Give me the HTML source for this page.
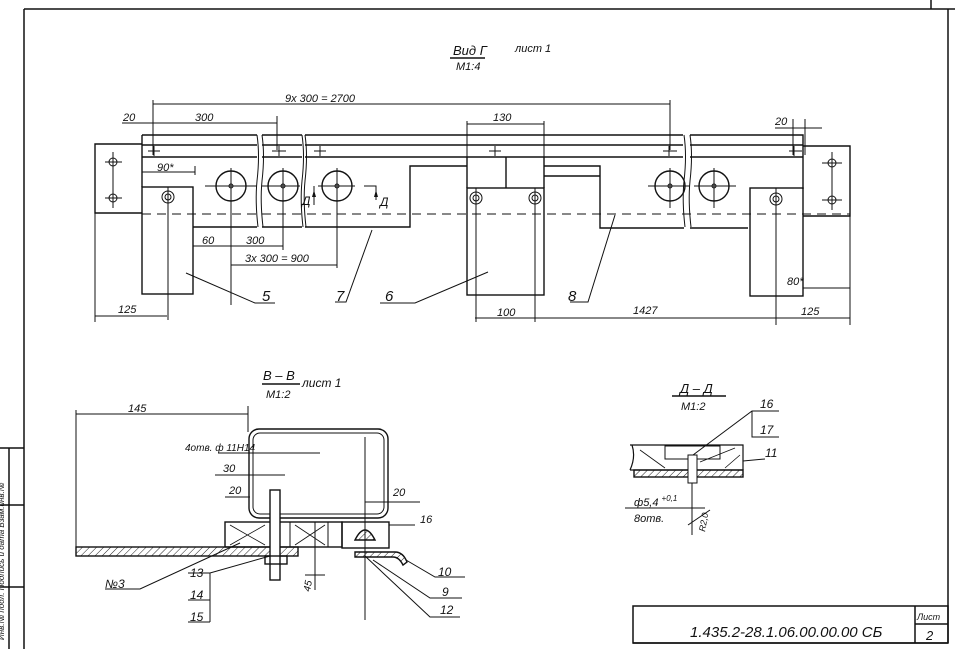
<!DOCTYPE html>
<html><head><meta charset="utf-8"><style>
html,body{margin:0;padding:0;background:#fff;}
svg{display:block;}
text{font-family:"Liberation Sans",sans-serif;font-style:italic;fill:#111;stroke:none;font-weight:normal;}
</style></head><body>
<svg width="955" height="649" viewBox="0 0 955 649" xmlns="http://www.w3.org/2000/svg">
<defs>
<pattern id="h" width="5" height="5" patternUnits="userSpaceOnUse" patternTransform="rotate(45)"><line x1="0" y1="0" x2="0" y2="5" stroke="#222" stroke-width="1"/></pattern>
</defs>
<g stroke="#111" fill="none" stroke-width="1.5">
<line x1="24" y1="9" x2="955" y2="9"/>
<line x1="24" y1="9" x2="24" y2="649"/>
<line x1="948" y1="9" x2="948" y2="643"/>
<line x1="931" y1="0" x2="931" y2="9"/>
<line x1="0" y1="448" x2="24" y2="448"/>
<line x1="9" y1="448" x2="9" y2="649"/>
<line x1="0" y1="505" x2="24" y2="505"/>
<line x1="0" y1="587" x2="24" y2="587"/>
<rect x="633" y="606" width="315" height="37"/>
<line x1="915" y1="606" x2="915" y2="643"/>
<line x1="915" y1="624" x2="948" y2="624"/>
<line x1="633" y1="643" x2="948" y2="643"/>
</g>
<g stroke="#111" fill="none" stroke-width="1.4">
<path d="M142 135 H257 M262 135 H302 M305 135 H683 M690 135 H803 V157"/>
<path d="M142 145 H257 M262 145 H302 M305 145 H683 M690 145 H803"/>
<path d="M142 157 H257 M262 157 H302 M305 157 H683 M690 157 H803"/>
<path d="M142 135 V187"/>
<path d="M257 135 q3 20 0 46 q-2 20 1 46" stroke-width="1"/>
<path d="M262 135 q3 20 0 46 q-2 20 1 46" stroke-width="1"/>
<path d="M302 135 q3 20 0 46 q-2 20 1 46" stroke-width="1"/>
<path d="M305 135 q3 20 0 46 q-2 20 1 46" stroke-width="1"/>
<path d="M684 135 q3 20 0 46 q-2 20 1 46" stroke-width="1"/>
<path d="M690 135 q3 20 0 46 q-2 20 1 46" stroke-width="1"/>
<path d="M142 144 H95 V213 H142"/>
<rect x="142" y="187" width="51" height="107"/>
<path d="M193 227 H257 M262 227 H302 M305 227 H410 V166 H467"/>
<rect x="467" y="188" width="77" height="107"/>
<path d="M467 157 V188 M544 157 V188 M506 157 V188"/>
<path d="M544 166 H600 V228 H684 M690 228 H748"/>
<path d="M544 176 H600"/>
<path d="M803 146 H850 V216 H803 M803 157 V189"/>
<rect x="750" y="188" width="53" height="108"/>
<path d="M142 214 H850" stroke-dasharray="9,6" stroke-width="1"/>
<circle cx="231" cy="186" r="15"/><circle cx="283" cy="186" r="15"/><circle cx="337" cy="186" r="15"/>
<circle cx="670" cy="186" r="15"/><circle cx="714" cy="186" r="15"/>
<g stroke-width="1">
<circle cx="231" cy="186" r="2"/><circle cx="283" cy="186" r="2"/><circle cx="337" cy="186" r="2"/><circle cx="670" cy="186" r="2"/><circle cx="714" cy="186" r="2"/>
<path d="M205 186 H257 M231 168 V305 M262 186 H300 M283 168 V250 M318 186 H355 M337 168 V268 M648 186 H690 M670 168 V208 M694 186 H736 M714 168 V208"/>
<circle cx="168" cy="197" r="6"/><circle cx="168" cy="197" r="3"/>
<circle cx="476" cy="198" r="6"/><circle cx="476" cy="198" r="3"/>
<circle cx="535" cy="198" r="6"/><circle cx="535" cy="198" r="3"/>
<circle cx="776" cy="199" r="6"/><circle cx="776" cy="199" r="3"/>
<circle cx="113" cy="162" r="4"/><circle cx="113" cy="198" r="4"/>
<circle cx="832" cy="163" r="4"/><circle cx="832" cy="200" r="4"/>
<path d="M105 162 H122 M105 198 H122 M113 152 V208 M822 163 H842 M822 200 H842 M832 152 V210"/>
<path d="M168 187 V320 M476 188 V322 M535 188 V322 M776 188 V325 M95 213 V322 M850 216 V325"/>
<path d="M148 151 H160 M154 146 V156 M272 151 H286 M279 146 V156 M314 151 H326 M320 146 V156 M489 151 H501 M495 146 V156 M663 151 H677 M669 146 V156 M789 151 H802 M794 146 V156"/>
<path d="M153 104 H670 M153 100 V155 M670 100 V150 M122 123 H277 M277 116 V150 M467 121 V160 M544 121 V160 M467 124 H544 M775 128 H822 M793 119 V155 M805 119 V155"/>
<path d="M142 172 H195 M195 166 V175 M193 246 H283 M231 265 H337 M95 316 H167 M475 318 H776 M776 318 H850 M803 288 H850"/>
<path d="M314 186 V205 M364 186 H376 V200"/>
<path d="M186 273 L255 303 H275 M372 230 L346 302 H335 M488 272 L415 303 H380 M615 215 L588 302 H570"/>
</g>
<g fill="#111" stroke="none">
<path d="M314 190 l-2 7 h4z M376 190 l-2 7 h4z"/>
</g>
<g font-size="11">
<text x="453" y="55" font-size="13">Вид Г</text>
<line x1="450" y1="58" x2="485" y2="58" stroke="#111"/>
<text x="456" y="70" font-size="11">М1:4</text>
<text x="515" y="52">лист 1</text>
<text x="285" y="102">9х 300 = 2700</text>
<text x="195" y="121">300</text>
<text x="123" y="121">20</text>
<text x="493" y="121">130</text>
<text x="775" y="125">20</text>
<text x="157" y="171">90*</text>
<text x="202" y="244">60</text>
<text x="246" y="244">300</text>
<text x="245" y="262">3х 300 = 900</text>
<text x="118" y="313">125</text>
<text x="497" y="316">100</text>
<text x="633" y="314">1427</text>
<text x="801" y="315">125</text>
<text x="787" y="285">80*</text>
<text x="302" y="205" font-size="12">Д</text>
<text x="380" y="206" font-size="12">Д</text>
<text x="262" y="301" font-size="15">5</text>
<text x="336" y="301" font-size="15">7</text>
<text x="385" y="301" font-size="15">6</text>
<text x="568" y="301" font-size="15">8</text>
</g>
<g stroke="#111" fill="none" stroke-width="1.4">
<text x="263" y="380" font-size="13">В – В</text>
<line x1="262" y1="384" x2="300" y2="384"/>
<text x="266" y="398" font-size="11">М1:2</text>
<text x="302" y="387" font-size="12">лист 1</text>
<path d="M76 410 V548 M76 414 H248 M248 406 V432" stroke-width="1"/>
<rect x="249" y="429" width="139" height="89" rx="10"/>
<rect x="253" y="433" width="131" height="81" rx="7" stroke-width="1"/>
<rect x="225" y="522" width="117" height="25"/>
<rect x="342" y="522" width="47" height="26"/>
<path d="M270 522 V547 M290 522 V547 M328 522 V547" stroke-width="1"/>
<path d="M230 525 L265 545 M230 545 L265 525 M295 525 L325 545 M295 545 L325 525" stroke-width="0.8"/>
<rect x="76" y="547" width="222" height="9" fill="url(#h)"/>
<rect x="270" y="490" width="10" height="90" fill="#fff"/>
<rect x="265" y="556" width="22" height="8"/>
<path d="M355 540 q10 -20 20 0 z" fill="url(#h)"/>
<path d="M355 552 H395 q8 0 12 10 l-4 3 q-4 -8 -10 -8 H355z" fill="url(#h)"/>
<path d="M365 437 V620 M218 453 H320 M215 475 H285 M225 497 H250 M365 502 H420 M389 525 H415 M315 522 V590 M305 575 H325" stroke-width="1"/>
<path d="M240 543 L140 589 H105 M270 556 L210 573 H188 M210 573 V622 M188 600 H210 M188 622 H210 M406 560 L435 577 H465 M373 560 L430 598 H462 M365 556 L430 617 H460" stroke-width="1"/>
</g>
<g font-size="11">
<text x="128" y="412">145</text>
<text x="185" y="451" font-size="10">4отв. ф 11Н14</text>
<text x="223" y="472">30</text>
<text x="229" y="494">20</text>
<text x="393" y="496">20</text>
<text x="420" y="523">16</text>
<text x="105" y="588" font-size="12">№3</text>
<text x="190" y="577" font-size="12">13</text>
<text x="190" y="599" font-size="12">14</text>
<text x="190" y="621" font-size="12">15</text>
<text x="438" y="576" font-size="12">10</text>
<text x="442" y="596" font-size="12">9</text>
<text x="440" y="614" font-size="12">12</text>
<text x="310" y="592" font-size="10" transform="rotate(-80 310 592)">45</text>
</g>
<g stroke="#111" fill="none" stroke-width="1.4">
<text x="680" y="393" font-size="13">Д – Д</text>
<line x1="672" y1="396" x2="726" y2="396"/>
<text x="681" y="410" font-size="11">М1:2</text>
<path d="M630 445 H743 V470 M630 470 H743 M632 445 q4 12 -2 25" stroke-width="1.2"/>
<rect x="634" y="470" width="109" height="7" fill="url(#h)"/>
<rect x="665" y="446" width="55" height="13" stroke-width="1"/>
<path d="M640 450 L665 468 M700 462 L735 448 M725 468 L740 455" stroke-width="0.8"/>
<rect x="688" y="455" width="9" height="28" fill="#fff" stroke-width="1"/>
<path d="M692 483 V535 M693 455 L752 411 H779 M752 411 V437 H779 M743 461 L765 459 M625 508 H705 M688 525 L710 510" stroke-width="1"/>
</g>
<g font-size="12">
<text x="760" y="408">16</text>
<text x="760" y="434">17</text>
<text x="765" y="457">11</text>
<text x="634" y="506" font-size="11">ф5,4 <tspan font-size="8" dy="-5">+0,1</tspan></text>
<text x="634" y="522" font-size="11">8отв.</text>
<text x="705" y="532" font-size="9" transform="rotate(-80 705 532)">R2,0</text>
</g>
<text x="690" y="637" font-size="15">1.435.2-28.1.06.00.00.00 СБ</text>
<text x="917" y="620" font-size="9">Лист</text>
<text x="926" y="640" font-size="13">2</text>
<text x="4" y="640" font-size="8" transform="rotate(-90 4 640)">Инв.№ подл. Подпись и дата Взам.инв.№</text>
</svg>
</body></html>
